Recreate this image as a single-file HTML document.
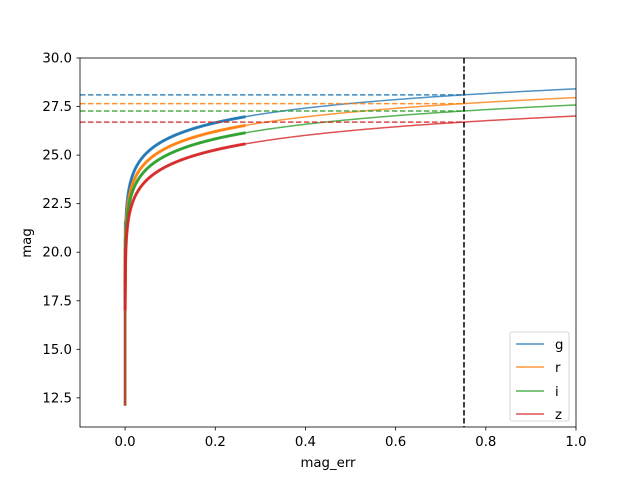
<!DOCTYPE html>
<html><head><meta charset="utf-8"><style>
body{margin:0;background:#fff}
svg text{font-family:"DejaVu Sans","Liberation Sans",sans-serif;font-size:13.3px;fill:#000}
</style></head><body>
<svg id="s" width="640" height="480" viewBox="0 0 640 480" xmlns="http://www.w3.org/2000/svg">
<rect width="640" height="480" fill="#fff"/>
<g id="plot"></g>
<line x1="464" y1="58" x2="464" y2="427" stroke="#000" stroke-width="1.5" stroke-dasharray="5.5,2.5"/>
<rect x="80" y="58" width="496" height="369" fill="none" stroke="#000" stroke-width="0.8"/>
<g id="ticks" stroke="#000" stroke-width="0.8"></g>
<g id="labels"></g>
<text x="328" y="467" text-anchor="middle">mag_err</text>
<text x="31" y="243" text-anchor="middle" transform="rotate(-90 31 243)">mag</text>
<rect x="510" y="332" width="59" height="89" fill="#fff" stroke="#ccc" stroke-width="0.8" rx="2"/>
<g stroke-width="1.5">
<line x1="516" y1="344" x2="544" y2="344" stroke="#1f77b4" opacity="0.8"/>
<line x1="516" y1="367" x2="544" y2="367" stroke="#ff7f0e" opacity="0.8"/>
<line x1="516" y1="391" x2="544" y2="391" stroke="#2ca02c" opacity="0.8"/>
<line x1="516" y1="414" x2="544" y2="414" stroke="#d62728" opacity="0.8"/>
</g>
<text x="555" y="349">g</text><text x="555" y="372">r</text><text x="555" y="396">i</text><text x="555" y="419">z</text>
</svg>
<script>
var X=function(v){return 80+(v+0.1)*496/1.1},Y=function(m){return 58+(30-m)*369/19};
var ns="http://www.w3.org/2000/svg",P=document.getElementById("plot");
function el(t,a,p){var e=document.createElementNS(ns,t);for(var k in a)e.setAttribute(k,a[k]);(p||P).appendChild(e);return e}
var S=[["#1f77b4",28.1],["#ff7f0e",27.65],["#2ca02c",27.27],["#d62728",26.7]];
S.forEach(function(s){
 var c=s[0],m5=s[1];
 el("line",{x1:80,x2:464,y1:Y(m5),y2:Y(m5),stroke:c,"stroke-width":1.5,"stroke-dasharray":"5.5,2.5",opacity:0.85});
 var d="",d2="";
 for(var i=0;i<=600;i++){var e=Math.pow(10,-4+i*4/600);if(e>1)break;var m=m5+2.5*Math.log10(e/0.75);if(m<12.2)continue;var p=X(e).toFixed(2)+","+Y(m).toFixed(2);d+=(d?"L":"M")+p;if(e<=0.27)d2+=(d2?"L":"M")+p;}
 el("path",{d:d,fill:"none",stroke:c,"stroke-width":1.5,opacity:0.8});
 el("path",{d:d2,fill:"none",stroke:c,"stroke-width":3,opacity:0.9});
 el("line",{x1:X(0),x2:X(0),y1:Y(m5-6.5),y2:Y(12.1),stroke:c,"stroke-width":2.5,opacity:0.7});
});
var T=document.getElementById("ticks"),L=document.getElementById("labels");
[-0.0,0.2,0.4,0.6,0.8,1.0].forEach(function(v){var x=X(v);el("line",{x1:x,x2:x,y1:427,y2:430.5},T);var t=el("text",{x:x,y:446,"text-anchor":"middle"},L);t.textContent=v.toFixed(1);});
[12.5,15,17.5,20,22.5,25,27.5,30].forEach(function(v){var y=Y(v);el("line",{x1:76.5,x2:80,y1:y,y2:y},T);var t=el("text",{x:72,y:y+4.5,"text-anchor":"end"},L);t.textContent=v.toFixed(1);});
</script>
</body></html>
